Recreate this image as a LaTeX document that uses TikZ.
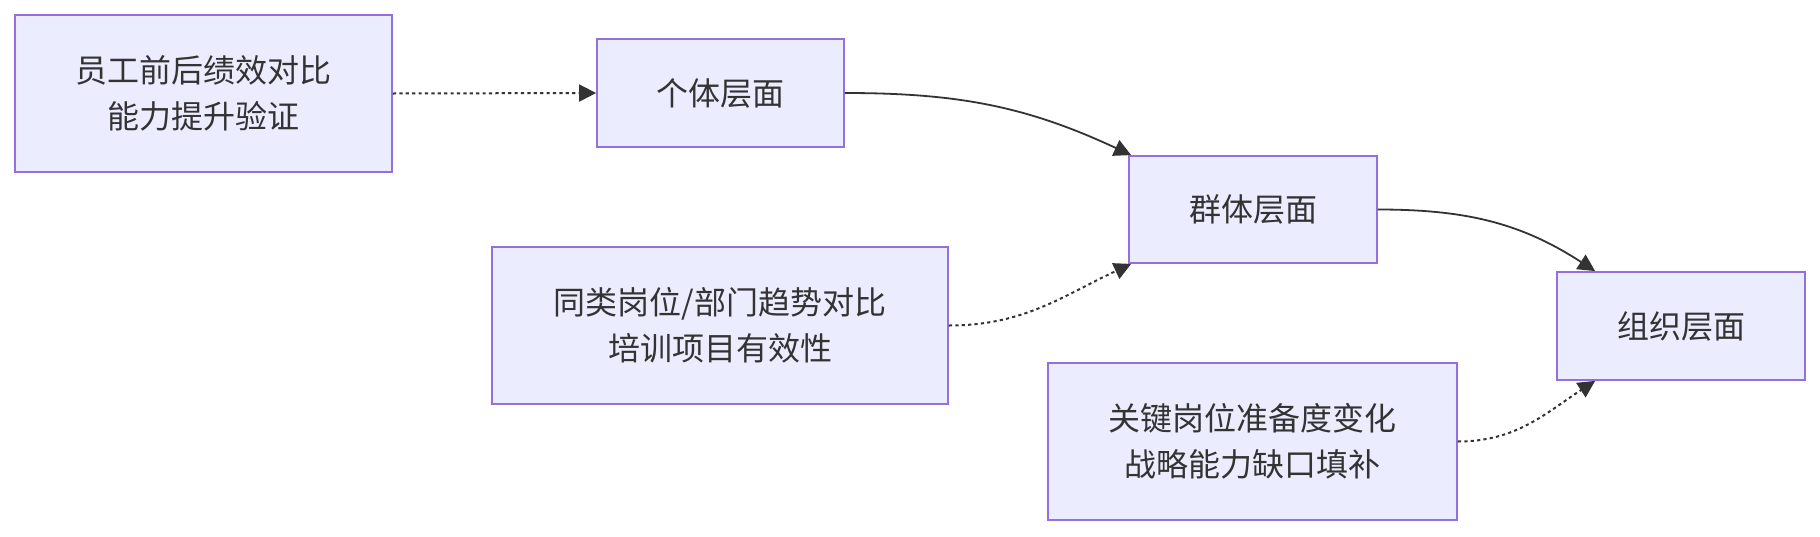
\documentclass[tikz,border=0pt]{standalone}
\usepackage{fontspec}
\setmainfont{Noto Sans CJK SC}
\usepackage{tikz}
\usetikzlibrary{arrows.meta,positioning}
\definecolor{lvFill}{HTML}{ECECFF}
\definecolor{lvLine}{HTML}{9370DB}
\definecolor{lvText}{HTML}{333333}
\tikzset{
  lvBox/.style={draw=lvLine, fill=lvFill, line width=0.9pt, inner sep=0pt,
    font=\fontsize{16}{23}\selectfont, align=center, text=lvText},
  %% Links
  lvlink/.style={-{Triangle[length=8.5pt,width=8.5pt]}, line width=0.9pt, draw=lvText},
  lvdot/.style={lvlink, line width=1pt, dash pattern=on 1.6pt off 1.6pt},
}

\begin{document}
\begin{tikzpicture}[x=0.5pt, y=-0.5pt]
\useasboundingbox (0,0) rectangle (1820,536);

%% Evidence boxes
\node[lvBox, minimum width=188.5pt, minimum height=78.5pt] (evInd) at (203.5,93.5) {员工前后绩效对比\\能力提升验证};
\node[lvBox, minimum width=228pt, minimum height=78.5pt]   (evGrp) at (720,325.5) {同类岗位/部门趋势对比\\培训项目有效性};
\node[lvBox, minimum width=204.5pt, minimum height=78.5pt] (evOrg) at (1252.5,441.5) {关键岗位准备度变化\\战略能力缺口填补};

%% Levels
\node[lvBox, minimum width=123.5pt, minimum height=54pt] (lvInd) at (720.5,93) {个体层面};
\node[lvBox, minimum width=124pt, minimum height=53.5pt] (lvGrp) at (1253,209.5) {群体层面};
\node[lvBox, minimum width=124pt, minimum height=54pt]   (lvOrg) at (1681,326) {组织层面};

%% Flow between levels
\draw[lvlink] (lvInd.east) to[out=0, in=155] ([xshift=1.5pt]lvGrp.north west);
\draw[lvlink] (lvGrp.east) to[out=0, in=147] ([xshift=19.5pt]lvOrg.north west);

%% Evidence links
\draw[lvdot] (evInd.east) -- (lvInd.west);
\draw[lvdot] (evGrp.east) to[out=0, in=205] ([xshift=1.5pt]lvGrp.south west);
\draw[lvdot] (evOrg.east) to[out=0, in=213] ([xshift=19.5pt]lvOrg.south west);

\end{tikzpicture}
\end{document}
